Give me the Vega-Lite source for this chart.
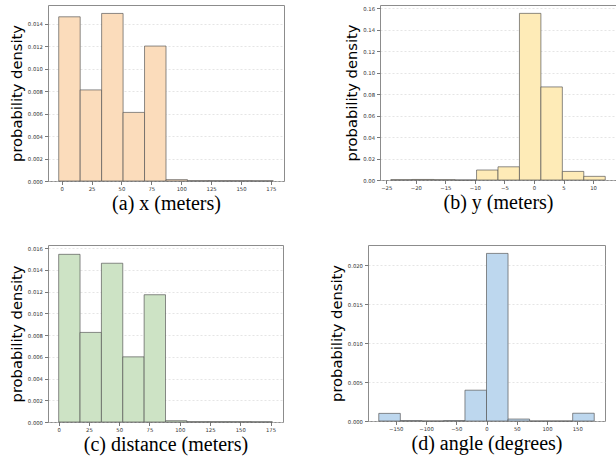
{
  "$schema": "https://vega.github.io/schema/vega-lite/v6.json",
  "padding": {"left": 8, "top": 4, "right": 0, "bottom": 0},
  "background": "white",
  "config": {
    "view": {"stroke": "#8c8c8c", "strokeWidth": 1},
    "axis": {"domain": false, "tickColor": "#555", "tickSize": 3.5, "tickWidth": 0.8, "labelFont": "DejaVu Sans", "labelFontSize": 5.3, "labelColor": "#333", "labelPadding": 2, "grid": false, "titleColor": "#000", "titleFontWeight": "normal"},
    "axisY": {"grid": true, "gridDash": [2, 2], "gridColor": "#d4d4d4", "gridWidth": 0.6, "titleFont": "DejaVu Sans", "titleFontSize": 14.7, "titlePadding": 3},
    "axisX": {"titleFont": "Liberation Serif, Times New Roman, DejaVu Serif, serif", "titleFontSize": 20, "titlePadding": 2},
    "rect": {"stroke": "#555", "strokeWidth": 0.8, "strokeOpacity": 0.85}
  },
  "vconcat": [
    {
      "hconcat": [
        {
          "width": 236, "height": 176,
          "data": {"values": [
            {"start": -2.5, "end": 15.45, "density": 0.0146},
            {"start": 15.45, "end": 33.4, "density": 0.0081},
            {"start": 33.4, "end": 51.35, "density": 0.0149},
            {"start": 51.35, "end": 69.3, "density": 0.0061},
            {"start": 69.3, "end": 87.25, "density": 0.0120},
            {"start": 87.25, "end": 105.2, "density": 0.00012},
            {"start": 105.2, "end": 123.15, "density": 0.00003},
            {"start": 123.15, "end": 141.1, "density": 0.00003},
            {"start": 141.1, "end": 159.05, "density": 0.00003},
            {"start": 159.05, "end": 177.0, "density": 0.00002}
          ]},
          "mark": {"type": "rect", "fill": "#fbdcbb"},
          "encoding": {
            "x": {"field": "start", "type": "quantitative", "title": "(a) x (meters)", "scale": {"domain": [-11.475, 185.975], "nice": false, "zero": false}, "axis": {"values": [0, 25, 50, 75, 100, 125, 150, 175], "format": "d"}},
            "x2": {"field": "end"},
            "y": {"field": "density", "type": "quantitative", "title": "probability density", "scale": {"domain": [0, 0.01565], "nice": false}, "axis": {"values": [0, 0.002, 0.004, 0.006, 0.008, 0.010, 0.012, 0.014], "format": ".3f"}},
            "y2": {"datum": 0}
          }
        },
        {
          "width": 236, "height": 175,
          "data": {"values": [
            {"start": -24.24, "end": -20.61, "density": 0.0003},
            {"start": -20.61, "end": -16.98, "density": 0.0005},
            {"start": -16.98, "end": -13.35, "density": 0.0003},
            {"start": -13.35, "end": -9.72, "density": 0.0},
            {"start": -9.72, "end": -6.09, "density": 0.0093},
            {"start": -6.09, "end": -2.46, "density": 0.0123},
            {"start": -2.46, "end": 1.17, "density": 0.1554},
            {"start": 1.17, "end": 4.80, "density": 0.0868},
            {"start": 4.80, "end": 8.43, "density": 0.0080},
            {"start": 8.43, "end": 12.06, "density": 0.0034}
          ]},
          "mark": {"type": "rect", "fill": "#feebb7"},
          "encoding": {
            "x": {"field": "start", "type": "quantitative", "title": "(b) y (meters)", "scale": {"domain": [-26.06, 13.88], "nice": false, "zero": false}, "axis": {"values": [-25, -20, -15, -10, -5, 0, 5, 10], "format": "d"}},
            "x2": {"field": "end"},
            "y": {"field": "density", "type": "quantitative", "title": "probability density", "scale": {"domain": [0, 0.1632], "nice": false}, "axis": {"values": [0, 0.02, 0.04, 0.06, 0.08, 0.10, 0.12, 0.14, 0.16], "format": ".2f"}},
            "y2": {"datum": 0}
          }
        }
      ],
      "spacing": 59
    },
    {
      "hconcat": [
        {
          "width": 235, "height": 177,
          "data": {"values": [
            {"start": 0, "end": 17.65, "density": 0.01544},
            {"start": 17.65, "end": 35.3, "density": 0.00825},
            {"start": 35.3, "end": 52.95, "density": 0.01462},
            {"start": 52.95, "end": 70.6, "density": 0.0060},
            {"start": 70.6, "end": 88.25, "density": 0.01172},
            {"start": 88.25, "end": 105.9, "density": 0.00012},
            {"start": 105.9, "end": 123.55, "density": 0.00003},
            {"start": 123.55, "end": 141.2, "density": 0.00003},
            {"start": 141.2, "end": 158.85, "density": 0.00003},
            {"start": 158.85, "end": 176.5, "density": 0.00002}
          ]},
          "mark": {"type": "rect", "fill": "#cde3c5"},
          "encoding": {
            "x": {"field": "start", "type": "quantitative", "title": "(c) distance (meters)", "scale": {"domain": [-8.825, 185.325], "nice": false, "zero": false}, "axis": {"values": [0, 25, 50, 75, 100, 125, 150, 175], "format": "d"}},
            "x2": {"field": "end"},
            "y": {"field": "density", "type": "quantitative", "title": "probability density", "scale": {"domain": [0, 0.0163], "nice": false}, "axis": {"values": [0, 0.002, 0.004, 0.006, 0.008, 0.010, 0.012, 0.014, 0.016], "format": ".3f"}},
            "y2": {"datum": 0}
          }
        },
        {
          "width": 237, "height": 176,
          "data": {"values": [
            {"start": -178, "end": -142.4, "density": 0.00098},
            {"start": -142.4, "end": -106.8, "density": 0.00005},
            {"start": -106.8, "end": -71.2, "density": 0.0},
            {"start": -71.2, "end": -35.6, "density": 0.00005},
            {"start": -35.6, "end": 0, "density": 0.00396},
            {"start": 0, "end": 35.6, "density": 0.02155},
            {"start": 35.6, "end": 71.2, "density": 0.00025},
            {"start": 71.2, "end": 106.8, "density": 0.0},
            {"start": 106.8, "end": 142.4, "density": 0.0},
            {"start": 142.4, "end": 178, "density": 0.00100}
          ]},
          "mark": {"type": "rect", "fill": "#bdd7ee"},
          "encoding": {
            "x": {"field": "start", "type": "quantitative", "title": "(d) angle (degrees)", "scale": {"domain": [-195.8, 195.8], "nice": false, "zero": false}, "axis": {"values": [-150, -100, -50, 0, 50, 100, 150], "format": "d"}},
            "x2": {"field": "end"},
            "y": {"field": "density", "type": "quantitative", "title": "probability density", "scale": {"domain": [0, 0.02263], "nice": false}, "axis": {"values": [0, 0.005, 0.010, 0.015, 0.020], "format": ".3f"}},
            "y2": {"datum": 0}
          }
        }
      ],
      "spacing": 44
    }
  ],
  "spacing": 29
}
